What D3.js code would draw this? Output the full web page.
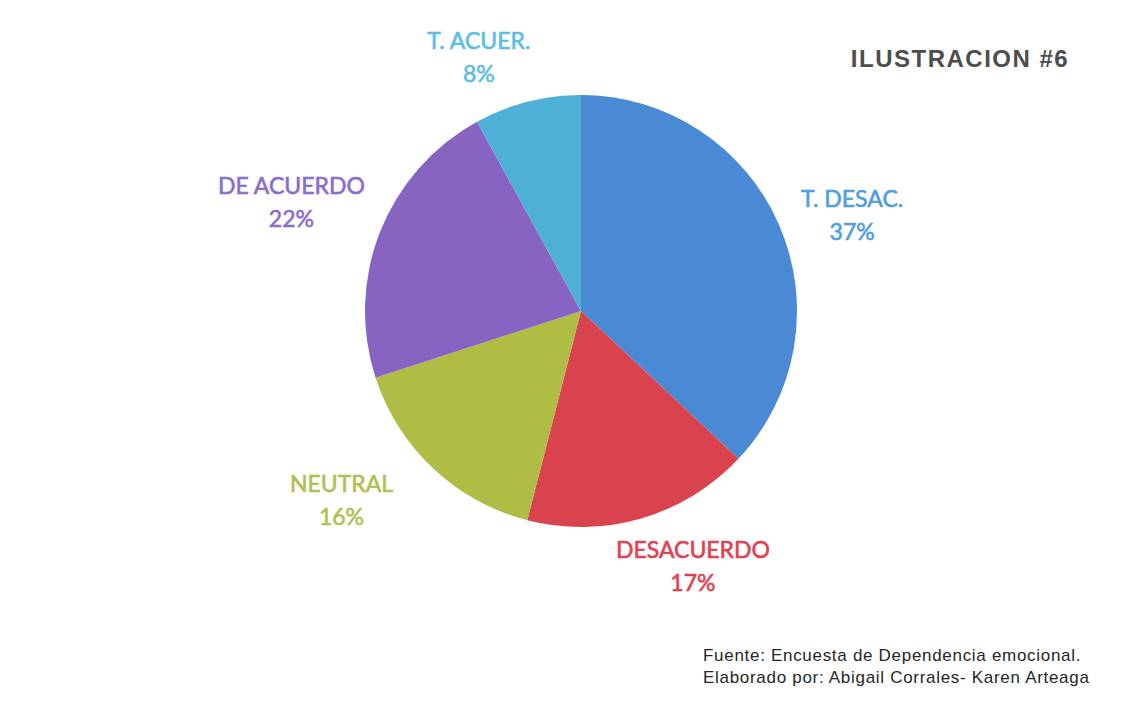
<!DOCTYPE html>
<html lang="es">
<head>
  <meta charset="UTF-8">
  <title>Ilustracion #6</title>
  <script src="https://d3js.org/d3.v7.min.js"></script>
  <style>
    body { margin: 0; background: #fff; }
    .slice-label { font-family: Lato, "Open Sans", sans-serif; font-size: 23px; stroke-width: 0.6px; }
    .title { font-family: "Liberation Sans", Arial, sans-serif; font-weight: bold; font-size: 24px; letter-spacing: 1.5px; fill: #4d4d4d; }
    .note { font-family: "Liberation Sans", Arial, sans-serif; font-size: 17px; letter-spacing: 0.7px; fill: #262626; }
  </style>
</head>
<body>
  <div id="chart"></div>
  <script>
    // data
    const categories = ["T. DESAC.", "DESACUERDO", "NEUTRAL", "DE ACUERDO", "T. ACUER."];
    const percents = [37, 17, 16, 22, 8];

    // styling / layout (kept apart from data)
    const sliceColors = ["#4a8ad4", "#d9434e", "#afbd45", "#8763c2", "#4eb0d6"];
    const labelColors = ["#4f9de2", "#e23f51", "#b0c052", "#8a6bcf", "#5bbde4"];
    const labelNudge = [[5, 19], [31, -23], [-41, -22], [-20, -2], [-30, 27]];

    const width = 1131, height = 710;
    const cx = 581, cy = 311, radius = 216;

    const svg = d3.select("#chart").append("svg")
      .attr("width", width)
      .attr("height", height);

    const rows = categories.map((c, i) => ({ name: c, value: percents[i], i }));

    const pie = d3.pie().sort(null).value(d => d.value);
    const arc = d3.arc().innerRadius(0).outerRadius(radius);
    const labelArc = d3.arc().innerRadius(290).outerRadius(290);

    const g = svg.append("g").attr("transform", `translate(${cx},${cy})`);

    g.selectAll("path")
      .data(pie(rows))
      .enter().append("path")
      .attr("d", arc)
      .attr("fill", d => sliceColors[d.data.i]);

    const labels = g.selectAll(".slice-label")
      .data(pie(rows))
      .enter().append("text")
      .attr("class", "slice-label")
      .attr("text-anchor", "middle")
      .attr("fill", d => labelColors[d.data.i])
      .attr("stroke", d => labelColors[d.data.i])
      .attr("transform", d => {
        const [x, y] = labelArc.centroid(d);
        const [nx, ny] = labelNudge[d.data.i];
        return `translate(${x + nx},${y + ny})`;
      });

    labels.append("tspan").attr("x", 0).attr("y", -8).text(d => d.data.name);
    labels.append("tspan").attr("x", 0).attr("y", 25).text(d => d.data.value + "%");

    svg.append("text")
      .attr("class", "title")
      .attr("x", 960).attr("y", 67)
      .attr("text-anchor", "middle")
      .text("ILUSTRACION #6");

    svg.append("text").attr("class", "note").attr("x", 703).attr("y", 661)
      .text("Fuente: Encuesta de Dependencia emocional.");
    svg.append("text").attr("class", "note").attr("x", 703).attr("y", 683)
      .text("Elaborado por: Abigail Corrales- Karen Arteaga");
  </script>
</body>
</html>
